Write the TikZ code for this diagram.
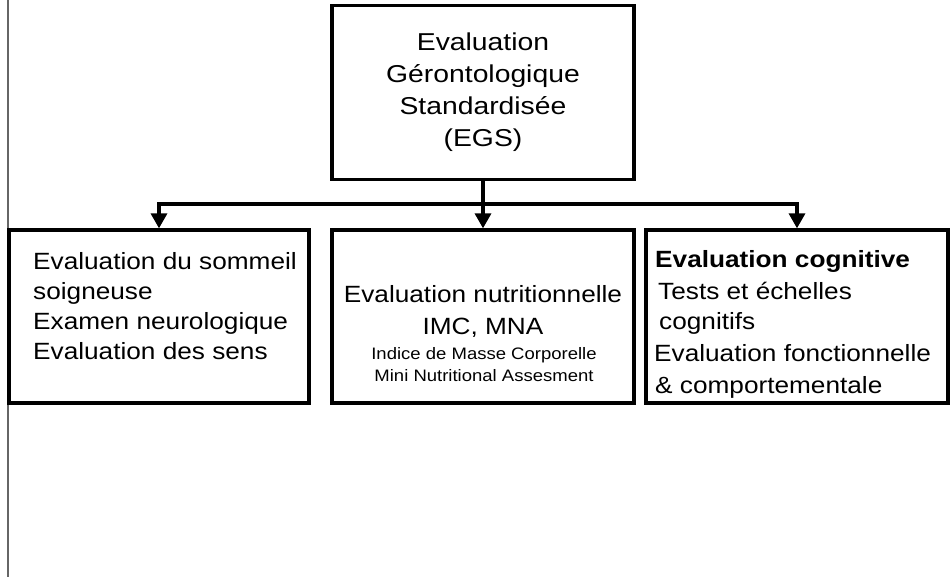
\documentclass[tikz,border=0pt]{standalone}
\usepackage{fontspec}
\setmainfont{Liberation Sans}
\usetikzlibrary{arrows.meta}
\newcommand{\hxa}[1]{\scalebox{1.16}[1]{#1}}
\newcommand{\hxb}[1]{\scalebox{1.115}[1]{#1}}
\tikzset{
  boxnode/.style={draw=black, line width=3.3pt, rectangle, inner sep=0pt},
  conn/.style={draw=black, line width=3.3pt, -{Triangle[width=16pt,length=15pt]}},
  bigtxt/.style={inner sep=0pt, font=\fontsize{24.4}{32}\selectfont},
  midtxt/.style={inner sep=0pt, font=\fontsize{23.5}{30}\selectfont},
  smalltxt/.style={inner sep=0pt, font=\fontsize{16.6}{20}\selectfont},
}
\begin{document}
\begin{tikzpicture}[x=1pt,y=-1pt]
\useasboundingbox (0,0) rectangle (951,577);
% thin left rule
\draw[black!60, line width=1.3pt] (8,0) -- (8,577);
% boxes
\node[boxnode, minimum width=302pt, minimum height=174pt] (top) at (483,92.5) {};
\node[boxnode, minimum width=300pt, minimum height=173pt] (lb) at (159,316.5) {};
\node[boxnode, minimum width=302pt, minimum height=173pt] (mb) at (483,316.5) {};
\node[boxnode, minimum width=302pt, minimum height=173pt] (rb) at (797,316.5) {};
% connectors
\coordinate (j) at (483,204);
\draw[line width=3.3pt] (top.south) -- (j);
\draw[conn] (j) -| (lb.north);
\draw[conn] (j) -| (rb.north);
\draw[conn] (j) -- (mb.north);
% top text
\node[bigtxt, anchor=base] (t1) at (483,51) {\hxa{Evaluation}};
\node[bigtxt, anchor=base] (t2) at (483,83) {\hxa{Gérontologique}};
\node[bigtxt, anchor=base] (t3) at (483,115) {\hxa{Standardisée}};
\node[bigtxt, anchor=base] (t4) at (483,147) {\hxa{(EGS)}};
% left text
\node[midtxt, anchor=base west] (l1) at (33,270) {\hxb{Evaluation du sommeil}};
\node[midtxt, anchor=base west] (l2) at (33,300) {\hxb{soigneuse}};
\node[midtxt, anchor=base west] (l3) at (33,330) {\hxb{Examen neurologique}};
\node[midtxt, anchor=base west] (l4) at (33,360) {\hxb{Evaluation des sens}};
% middle text
\node[midtxt, anchor=base] (m1) at (483,303) {\hxb{Evaluation nutritionnelle}};
\node[midtxt, anchor=base] (m2) at (483,335) {\hxb{IMC, MNA}};
\node[smalltxt, anchor=base] (m3) at (484,360) {\hxb{Indice de Masse Corporelle}};
\node[smalltxt, anchor=base] (m4) at (484,382) {\hxb{Mini Nutritional Assesment}};
% right text
\node[midtxt, anchor=base west] (r1) at (655,268) {\hxb{\bfseries Evaluation cognitive}};
\node[midtxt, anchor=base west] (r2) at (658,300) {\hxb{Tests et échelles}};
\node[midtxt, anchor=base west] (r3) at (659,330) {\hxb{cognitifs}};
\node[midtxt, anchor=base west] (r4) at (654,362) {\hxb{Evaluation fonctionnelle}};
\node[midtxt, anchor=base west] (r5) at (655,394) {\hxb{\& comportementale}};
\end{tikzpicture}
\end{document}
